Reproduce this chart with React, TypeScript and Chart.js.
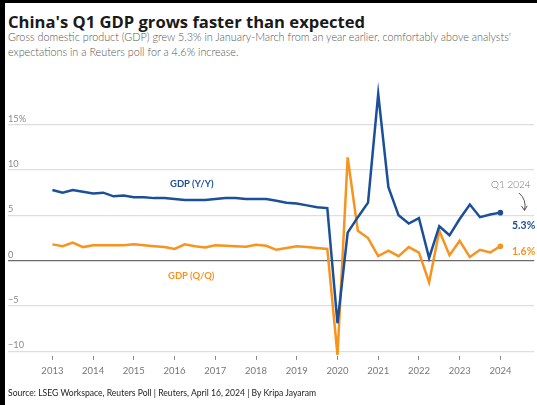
import React, { useEffect, useRef } from "react";
import { Chart, registerables } from "chart.js";

Chart.register(...registerables);

const startYear = 2013;
const yearTicks = [2013, 2014, 2015, 2016, 2017, 2018, 2019, 2020, 2021, 2022, 2023, 2024];
const yTicks = [-10, -5, 0, 5, 10, 15];

// Quarterly values, Q1 2013 .. Q1 2024
const gdpYoY = [
  7.8, 7.5, 7.8, 7.6,
  7.4, 7.5, 7.1, 7.2,
  7.0, 7.0, 6.9, 6.9,
  6.8, 6.7, 6.7, 6.7,
  6.8, 6.9, 6.9, 6.8,
  6.8, 6.8, 6.6, 6.4,
  6.3, 6.1, 5.9, 5.8,
  -6.9, 3.1, 4.8, 6.4,
  18.4, 8.1, 5.0, 4.1,
  4.7, 0.3, 3.8, 2.8,
  4.6, 6.2, 4.8, 5.1,
  5.3,
];
const gdpQoQ = [
  1.8, 1.6, 2.0, 1.5,
  1.7, 1.7, 1.7, 1.7,
  1.8, 1.7, 1.6, 1.5,
  1.3, 1.8, 1.6, 1.45,
  1.7, 1.65, 1.6, 1.55,
  1.75, 1.65, 1.2, 1.4,
  1.6, 1.5, 1.4, 1.3,
  -10.4, 11.4, 3.3, 2.5,
  0.5, 1.1, 0.5, 1.5,
  0.9, -2.4, 3.3, 0.6,
  2.2, 0.4, 1.2, 0.9,
  1.6,
];

const BLUE = "#1b4f9a";
const ORANGE = "#f7931e";
const FONT = "Lato, 'Noto Sans', sans-serif";

const toPoints = (vals: number[]) =>
  vals.map((v, i) => ({ x: startYear + i * 0.25, y: v }));

export default function App() {
  const ref = useRef<HTMLCanvasElement | null>(null);

  useEffect(() => {
    document.body.style.margin = "0";
    if (!ref.current) return;
    const lastIdx = gdpYoY.length - 1;
    const mk = (label: string, vals: number[], color: string) => ({
      label,
      data: toPoints(vals),
      borderColor: color,
      backgroundColor: color,
      borderWidth: 2.5,
      pointRadius: (c: any) => (c.dataIndex === lastIdx ? 2.8 : 0),
      pointBorderWidth: 0,
      pointHoverRadius: 0,
      tension: 0,
      clip: false as any,
    });
    const chart = new Chart(ref.current, {
      type: "line",
      data: {
        datasets: [mk("GDP (Y/Y)", gdpYoY, BLUE), mk("GDP (Q/Q)", gdpQoQ, ORANGE)],
      },
      options: {
        animation: false,
        responsive: false,
        maintainAspectRatio: false,
        events: [],
        layout: { padding: { left: 8, right: 0, top: 8.4, bottom: 0 } },
        plugins: { legend: { display: false }, tooltip: { enabled: false } },
        scales: {
          x: {
            type: "linear",
            min: 2011.91,
            max: 2024.83,
            afterBuildTicks: (s: any) => {
              s.ticks = yearTicks.map((v) => ({ value: v }));
            },
            afterFit: (s: any) => {
              s.height = 24.1;
            },
            border: { display: false },
            grid: {
              drawOnChartArea: false,
              drawTicks: true,
              tickLength: 4,
              color: "#888",
              lineWidth: 1,
            },
            ticks: {
              autoSkip: false,
              maxRotation: 0,
              padding: 5,
              color: "#777",
              font: { family: FONT, size: 9.5 },
              callback: (v: any) => String(v),
            },
          },
          y: {
            type: "linear",
            min: -10.5,
            max: 19,
            afterBuildTicks: (s: any) => {
              s.ticks = yTicks.map((v) => ({ value: v }));
            },
            afterFit: (s: any) => {
              s.width = 0;
            },
            border: { display: false },
            grid: {
              drawTicks: false,
              color: (c: any) => (c.tick && c.tick.value === 0 ? "#6b6b6b" : "#dedede"),
              lineWidth: 1.2,
            },
            ticks: {
              mirror: true,
              padding: 0,
              labelOffset: -6,
              color: "#8a8a8a",
              font: { family: FONT, size: 9.2 },
              callback: (v: any) => {
                const n = Number(v);
                if (n === 15) return "15%";
                return n < 0 ? "\u2212" + Math.abs(n) : String(n);
              },
            },
          },
        },
      },
    });
    return () => chart.destroy();
  }, []);

  const abs = (s: React.CSSProperties): React.CSSProperties => ({
    position: "absolute",
    whiteSpace: "nowrap",
    fontFamily: FONT,
    lineHeight: 1,
    ...s,
  });

  return (
    <div style={{ position: "relative", width: 537, height: 405, background: "#fff", overflow: "hidden" }}>
      <canvas
        ref={ref}
        width={537}
        height={300}
        style={{ position: "absolute", left: 0, top: 80, width: 537, height: 300 }}
      />
      <div style={abs({ left: 0, top: 0, width: 537, height: 3, background: "#000" })} />
      <div style={abs({ left: 0, top: 0, width: 5, height: 405, background: "#000" })} />
      <div
        style={abs({
          left: 8,
          top: 14,
          fontSize: 16.6,
          fontWeight: 700,
          color: "#1a1a1a",
          fontFamily: "'Open Sans', Lato, sans-serif",
        })}
      >
        China's Q1 GDP grows faster than expected
      </div>
      <div style={abs({ left: 8, top: 28.5, fontSize: 10.8, fontWeight: 300, color: "#555", lineHeight: "15.5px" })}>
        Gross domestic product (GDP) grew 5.3% in January-March from an year earlier, comfortably above analysts'
        <br />
        expectations in a Reuters poll for a 4.6% increase.
      </div>
      <div style={abs({ left: 170, top: 179, fontSize: 9.5, fontWeight: 700, color: BLUE })}>GDP (Y/Y)</div>
      <div style={abs({ left: 168, top: 270.5, fontSize: 9.5, fontWeight: 700, color: ORANGE })}>GDP (Q/Q)</div>
      <div style={abs({ left: 491, top: 179, fontSize: 10, fontWeight: 300, color: "#777" })}>Q1 2024</div>
      <div style={abs({ left: 512, top: 219.5, fontSize: 10.5, fontWeight: 700, color: BLUE })}>5.3%</div>
      <div style={abs({ left: 512, top: 245.5, fontSize: 10.5, fontWeight: 700, color: ORANGE })}>1.6%</div>
      <svg
        width={537}
        height={405}
        style={{ position: "absolute", left: 0, top: 0, pointerEvents: "none" }}
      >
        <path d="M519,193 Q527,200 524.5,210" fill="none" stroke="#444" strokeWidth={0.9} />
        <path d="M521.5,206 L524.5,210.5 L527.2,205.8" fill="none" stroke="#444" strokeWidth={0.9} />
      </svg>
      <div style={abs({ left: 8, top: 389, fontSize: 8.6, color: "#222" })}>
        Source: LSEG Workspace, Reuters Poll | Reuters, April 16, 2024 | By Kripa Jayaram
      </div>
    </div>
  );
}
